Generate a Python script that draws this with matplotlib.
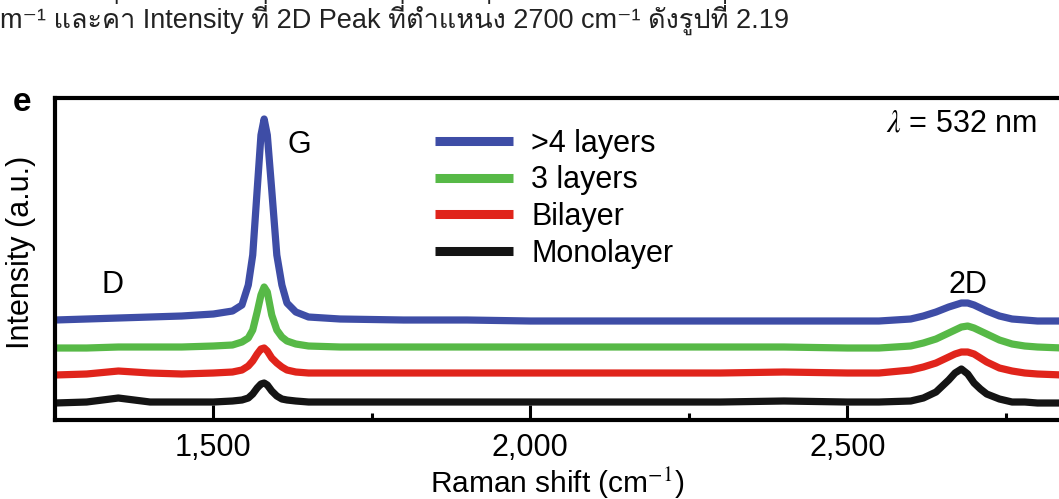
import matplotlib
matplotlib.use("Agg")
import matplotlib.pyplot as plt
from matplotlib import font_manager
from matplotlib.ft2font import FT2Font
from matplotlib.ticker import FixedLocator, FuncFormatter

plt.rcParams['font.family'] = ['Liberation Sans', 'DejaVu Sans']
plt.rcParams['mathtext.fontset'] = 'stix'

# Raman shift sample positions (cm-1), denser around the G and 2D peaks
raman_shift = [1250, 1300, 1350, 1400, 1450, 1500, 1530, 1545, 1555, 1562,
               1569, 1575, 1580, 1585, 1592, 1600, 1608, 1616, 1630, 1650,
               1700, 1800, 1900, 2000, 2100, 2200, 2300, 2400, 2500, 2550,
               2600, 2620, 2640, 2660, 2670, 2680, 2690, 2700, 2710, 2720,
               2740, 2760, 2780, 2800, 2840]

# intensities (a.u.), already stacked with their offsets as in the figure
many_layers = [100, 101, 102, 103, 104, 106, 109, 115, 135, 165,
               230, 285, 301, 285, 230, 165, 135, 117, 108, 103,
               101, 100, 100, 99, 99, 99, 99, 99, 99, 99,
               101, 104, 108, 113, 115, 117, 117, 115, 112, 109,
               104, 101, 100, 99, 99]
three_layers = [72, 72, 73, 73, 73, 74, 75, 78, 82, 90,
                108, 125, 133, 128, 105, 90, 83, 79, 76, 74,
                73, 73, 73, 73, 73, 73, 73, 73, 72, 72,
                74, 77, 81, 87, 90, 93, 94, 92, 89, 86,
                80, 76, 74, 73, 72]
bilayer = [45, 46, 49, 47, 46, 47, 48, 50, 54, 59,
           66, 71, 72, 69, 62, 57, 53, 50, 48, 47,
           47, 47, 47, 47, 47, 47, 47, 48, 47, 47,
           50, 53, 57, 63, 66, 68, 68, 66, 62, 58,
           52, 49, 47, 46, 45]
monolayer = [17, 18, 22, 18, 18, 18, 19, 20, 22, 26,
             32, 36, 37, 35, 29, 24, 21, 20, 19, 18,
             18, 18, 18, 18, 18, 18, 18, 19, 18, 18,
             19, 22, 28, 40, 47, 51, 46, 37, 31, 26,
             21, 18, 18, 17, 17]

series_labels = ['>4 layers', '3 layers', 'Bilayer', 'Monolayer']
series_colors = ['#3e4da6', '#57b947', '#e0241b', '#141414']
major_ticks = [1500, 2000, 2500]
minor_ticks = [1750, 2250, 2750]

caption = 'm⁻¹ และค่า Intensity ที่ 2D Peak ที่ตำแหน่ง 2700 cm⁻¹ ดังรูปที่ 2.19'

# look for an installed family that can draw Thai for the caption line
thai_family = None
for f in font_manager.fontManager.ttflist:
    try:
        if 0x0E04 in FT2Font(f.fname).get_charmap():
            thai_family = f.name
            break
    except Exception:
        pass
caption_families = ['Liberation Sans', 'DejaVu Sans']
if thai_family:
    caption_families.insert(1, thai_family)

fig = plt.figure(figsize=(10.59, 4.99), dpi=100)
ax = fig.add_axes([0.0519, 0.1583, 0.9481, 0.6453])

for y, lab, col in zip([many_layers, three_layers, bilayer, monolayer], series_labels, series_colors):
    ax.plot(raman_shift, y, color=col, lw=5.2, label=lab, solid_capstyle='butt')

ax.set_xlim(1250, 2834)
ax.set_ylim(0, 322)

ax.spines['right'].set_visible(False)
for s in ['top', 'left', 'bottom']:
    ax.spines[s].set_linewidth(3)

ax.set_yticks([])
ax.xaxis.set_major_locator(FixedLocator(major_ticks))
ax.xaxis.set_minor_locator(FixedLocator(minor_ticks))
ax.xaxis.set_major_formatter(FuncFormatter(lambda v, p: '{:,.0f}'.format(v)))
ax.tick_params(axis='x', which='major', direction='in', length=11, width=2.2, labelsize=22, pad=9)
ax.tick_params(axis='x', which='minor', direction='in', length=5, width=2.2)

ax.set_xlabel('Raman shift (cm$^{-1}$)', fontsize=21.5, labelpad=2)
ax.set_ylabel('Intensity (a.u.)', fontsize=22)
ax.yaxis.set_label_coords(-0.019, 0.52)

# peak labels
ax.text(1636, 275, 'G', fontsize=22, ha='center', va='center')
ax.text(1340, 135, 'D', fontsize=22, ha='center', va='center')
ax.text(2690, 135, '2D', fontsize=22, ha='center', va='center')
ax.text(2680, 297, r'$\lambda$ = 532 nm', fontsize=22, ha='center', va='center')

leg = ax.legend(loc='upper left', bbox_to_anchor=(0.3785, 0.905), frameon=False,
                fontsize=22, handlelength=2.55, handletextpad=0.6, labelspacing=0.22,
                borderpad=0, borderaxespad=0)
for h in leg.get_lines():
    h.set_linewidth(6.5)

# panel letter
fig.text(0.021, 0.795, 'e', fontsize=24, fontweight='bold', ha='center', va='center')

# caption line of the surrounding document (top of the page crop)
fig.text(0.0, 0.944, caption, fontsize=19.5, color='#222222', ha='left', va='baseline',
         family=caption_families)

fig.savefig('out.png', dpi=100)
